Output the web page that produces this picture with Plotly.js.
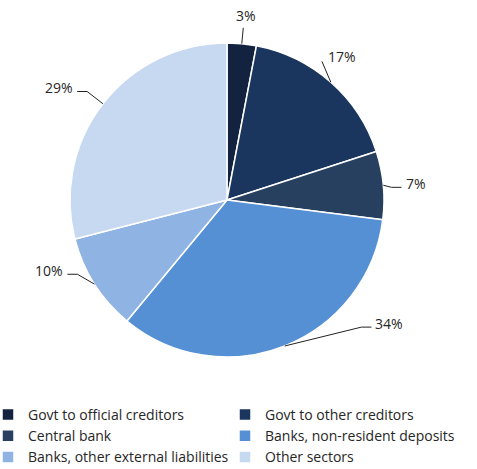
<!DOCTYPE html>
<html>
<head>
<meta charset="utf-8">
<script src="https://cdn.plot.ly/plotly-3.0.1.min.js"></script>
<style>html,body{margin:0;padding:0;background:#fff;}#chart{width:477px;height:469px;}</style>
</head>
<body>
<div id="chart"></div>
<script>
var labels = ["Govt to official creditors", "Govt to other creditors", "Central bank",
              "Banks, non-resident deposits", "Banks, other external liabilities", "Other sectors"];
var values = [3, 17, 7, 34, 10, 29];
var colors = ["#13233f", "#1a365e", "#27405f", "#5590d5", "#8fb4e3", "#c6d9f1"];

// label placement tweaks (layout only): angle shift in degrees, extra radius in px
var labelAngleShift = [0, -7, 1, -25, 6, 0];
var labelExtraR = [16, 11, 8, 28, 10, 20];

var W = 477, H = 469;
var M = {l: 0, r: 0, t: 43, b: 112, autoexpand: false};
var pw = W - M.l - M.r, ph = H - M.t - M.b;
// pie placed in the plot area via its domain
var pieLeft = 70, pieSize = 314;
var dom = {x: [(pieLeft - M.l) / pw, (pieLeft + pieSize - M.l) / pw], y: [0, 1]};
var R = pieSize / 2;
var cx = pieLeft + R, cy = M.t + ph / 2;

function px2x(px) { return (px - M.l) / pw; }
function py2y(py) { return 1 - (py - M.t) / ph; }

var FONT = "Open Sans";
var total = values.reduce(function (a, b) { return a + b; }, 0);
var annotations = [], shapes = [];
var cum = 0;
values.forEach(function (v, i) {
  var mid = (cum + v / 2) / total * 2 * Math.PI;
  cum += v;
  var s = Math.sin(mid), c = Math.cos(mid);
  var x0 = cx + R * s, y0 = cy - R * c;
  var a1 = mid + labelAngleShift[i] * Math.PI / 180;
  var r1 = R + labelExtraR[i];
  var x1 = cx + r1 * Math.sin(a1), y1 = cy - r1 * Math.cos(a1);
  var right = s >= 0;
  var pct = Math.round(v / total * 100) + "%";
  var lf = {family: FONT, size: 14, color: "#262626"};
  if (Math.abs(s) < 0.2) {
    shapes.push({type: "line", xref: "paper", yref: "paper",
      x0: px2x(x0), y0: py2y(y0), x1: px2x(x1), y1: py2y(y1),
      line: {color: "#222", width: 1}});
    annotations.push({xref: "paper", yref: "paper", x: px2x(x1 + 3), y: py2y(y1 - 1),
      text: pct, showarrow: false, xanchor: "center", yanchor: "bottom", font: lf});
  } else if (s > 0 && c > 0.6) {
    shapes.push({type: "line", xref: "paper", yref: "paper",
      x0: px2x(x0), y0: py2y(y0), x1: px2x(x1), y1: py2y(y1),
      line: {color: "#222", width: 1}});
    annotations.push({xref: "paper", yref: "paper", x: px2x(x1 + 4), y: py2y(y1 - 5),
      text: pct, showarrow: false, xanchor: "left", yanchor: "middle", font: lf});
  } else {
    var x2 = x1 + (right ? 10 : -10);
    shapes.push({type: "path", xref: "paper", yref: "paper",
      path: "M" + px2x(x0) + "," + py2y(y0) + " L" + px2x(x1) + "," + py2y(y1) + " L" + px2x(x2) + "," + py2y(y1),
      line: {color: "#222", width: 1}});
    annotations.push({xref: "paper", yref: "paper", x: px2x(x2 + (right ? 2 : -2)), y: py2y(y1 - 4),
      text: pct, showarrow: false, xanchor: right ? "left" : "right", yanchor: "middle", font: lf});
  }
});

var data = [{
  type: "pie",
  labels: labels,
  values: values,
  domain: dom,
  marker: {colors: colors, line: {color: "#ffffff", width: 1.5}},
  sort: false,
  direction: "clockwise",
  rotation: 0,
  textinfo: "none",
  hoverinfo: "label+percent"
}];

var layout = {
  width: W, height: H,
  margin: M,
  paper_bgcolor: "#ffffff",
  showlegend: true,
  legend: {
    orientation: "h",
    x: px2x(-12), xanchor: "left",
    y: py2y(399), yanchor: "top",
    entrywidth: 192, entrywidthmode: "pixels",
    font: {family: FONT, size: 14, color: "#262626"},
    traceorder: "normal"
  },
  annotations: annotations,
  shapes: shapes
};

Plotly.newPlot("chart", data, layout, {displayModeBar: false, staticPlot: true});
</script>
</body>
</html>
